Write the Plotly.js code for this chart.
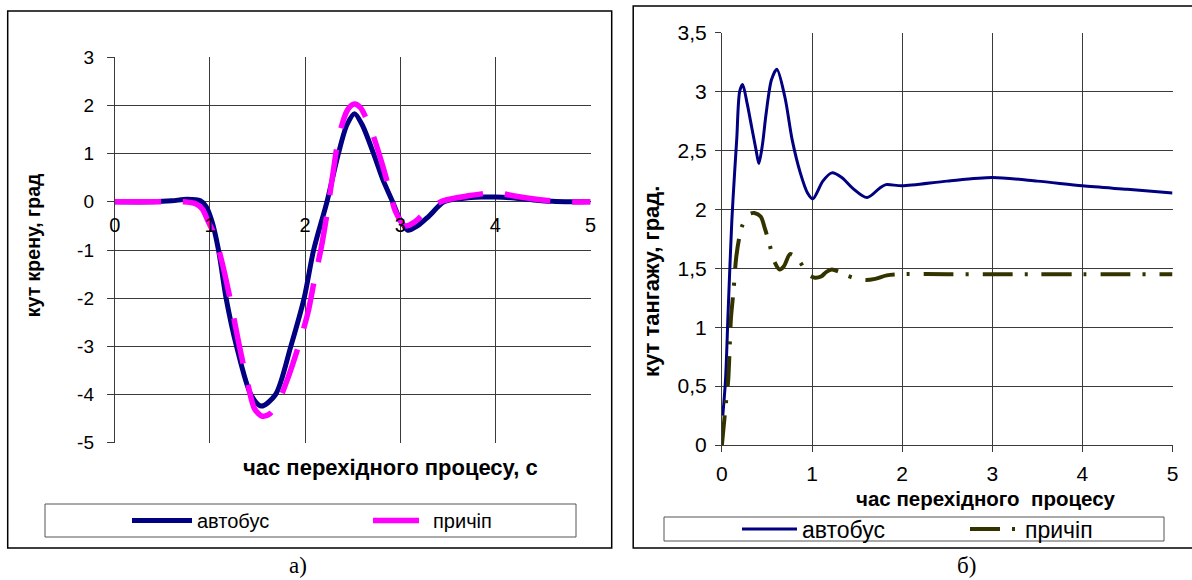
<!DOCTYPE html>
<html>
<head>
<meta charset="utf-8">
<script src="https://cdn.plot.ly/plotly-3.0.1.min.js"></script>
<style>
html,body{margin:0;padding:0;background:#fff;}
#chart{width:1192px;height:580px;}
</style>
</head>
<body>
<div id="chart"></div>
<script>
// ---------- data: panel а) roll angle ----------
const rollBusT = [0, 0.4, 0.6, 0.76, 0.9, 0.96, 1.02, 1.09, 1.17, 1.28, 1.43, 1.54, 1.69, 1.85, 1.99, 2.09, 2.23, 2.35, 2.44, 2.52, 2.6, 2.72, 2.82, 2.92, 3.0, 3.08, 3.18, 3.3, 3.46, 3.65, 3.85, 4.0, 4.2, 4.4, 4.6, 4.8, 5];
const rollBusV = [0, 0, 0.02, 0.055, 0.02, -0.1, -0.4, -1, -2, -3, -4, -4.24, -4, -3, -2, -1, 0, 1, 1.6, 1.83, 1.6, 1, 0.45, 0, -0.38, -0.59, -0.5, -0.3, 0, 0.07, 0.1, 0.1, 0.08, 0.04, 0.01, 0, 0];
const rollTrlT = [0, 0.5, 0.72, 0.85, 0.92, 0.98, 1.05, 1.12, 1.2, 1.31, 1.4, 1.47, 1.55, 1.63, 1.73, 1.83, 1.93, 2.03, 2.1, 2.17, 2.23, 2.29, 2.36, 2.45, 2.52, 2.58, 2.65, 2.72, 2.8, 2.88, 2.95, 3.05, 3.15, 3.3, 3.45, 3.7, 4.0, 4.2, 4.45, 4.7, 5];
const rollTrlV = [0, 0, 0, -0.04, -0.15, -0.4, -0.7, -1.2, -1.9, -3.0, -3.8, -4.3, -4.45, -4.4, -4.1, -3.6, -3.0, -2.3, -1.6, -0.95, -0.25, 0.55, 1.4, 1.92, 2.03, 1.96, 1.7, 1.35, 0.85, 0.3, -0.2, -0.5, -0.42, -0.15, 0.02, 0.12, 0.19, 0.12, 0.05, 0, 0];

// ---------- data: panel б) pitch angle ----------
const pitchBusT = [0.01, 0.04, 0.07, 0.11, 0.14, 0.165, 0.197, 0.23, 0.28, 0.33, 0.38, 0.41, 0.45, 0.49, 0.55, 0.61, 0.7, 0.78, 0.87, 0.95, 1.01, 1.12, 1.22, 1.33, 1.45, 1.61, 1.75, 1.82, 2.0, 2.5, 3.0, 3.5, 4.0, 4.5, 5.0];
const pitchBusV = [0.25, 0.55, 1.15, 1.9, 2.3, 2.6, 3.0, 3.06, 2.9, 2.7, 2.5, 2.39, 2.55, 2.81, 3.1, 3.19, 2.95, 2.59, 2.31, 2.14, 2.09, 2.24, 2.31, 2.27, 2.18, 2.1, 2.18, 2.21, 2.2, 2.24, 2.27, 2.24, 2.2, 2.17, 2.14];
const pitchTrlT = [0, 0.03, 0.05, 0.07, 0.085, 0.1, 0.13, 0.157, 0.19, 0.22, 0.26, 0.3, 0.36, 0.43, 0.48, 0.53, 0.58, 0.64, 0.69, 0.755, 0.81, 0.87, 0.92, 0.97, 1.03, 1.1, 1.16, 1.22, 1.3, 1.38, 1.5, 1.6, 1.7, 1.83, 2.0, 2.5, 3, 3.5, 4, 4.5, 5];
const pitchTrlV = [0, 0.24, 0.4, 0.55, 0.8, 1.07, 1.32, 1.58, 1.75, 1.85, 1.92, 1.96, 1.97, 1.94, 1.83, 1.7, 1.56, 1.49, 1.52, 1.62, 1.6, 1.55, 1.49, 1.44, 1.42, 1.43, 1.47, 1.49, 1.47, 1.44, 1.41, 1.4, 1.41, 1.44, 1.45, 1.45, 1.45, 1.45, 1.45, 1.45, 1.45];

const seriesNames = ['автобус', 'причіп'];
const yTickValsA = [-5, -4, -3, -2, -1, 0, 1, 2, 3];
const yTickTextA = ['-5', '-4', '-3', '-2', '-1', '0', '1', '2', '3'];
const xTitleA = 'час перехідного процесу, с';
const yTitleA = 'кут крену, град';
const xTitleB = 'час перехідного  процесу';
const yTitleB = 'кут тангажу, град.';
const captions = ['а)', 'б)'];

// ---------- layout helpers (pixel -> paper) ----------
const W = 1192, H = 580;
const px = x => x / W;
const py = y => 1 - y / H;

const SANS = 'Liberation Sans, Arial, sans-serif';
const SERIF = 'Liberation Serif, Times New Roman, serif';
const GRID = '#3a3a3a';

const xDomA = [px(114.8), px(590.5)], yDomA = [py(442.7), py(57.3)];
const xDomB = [px(721.9), px(1172.5)], yDomB = [py(445), py(32.7)];
const yRangeA = [-5, 3];
const zeroPosA = yDomA[0] + (0 - yRangeA[0]) / (yRangeA[1] - yRangeA[0]) * (yDomA[1] - yDomA[0]);

const traces = [
  {x: rollBusT, y: rollBusV, xaxis: 'x', yaxis: 'y', name: seriesNames[0], mode: 'lines',
   line: {color: '#000080', width: 5, shape: 'spline', smoothing: 0.8}, legend: 'legend', showlegend: true},
  {x: rollTrlT, y: rollTrlV, xaxis: 'x', yaxis: 'y', name: seriesNames[1], mode: 'lines',
   line: {color: '#FF00FF', width: 5.5, shape: 'spline', smoothing: 0.8, dash: '46px,22px'}, legend: 'legend2', showlegend: true},
  {x: pitchBusT, y: pitchBusV, xaxis: 'x2', yaxis: 'y2', name: seriesNames[0], mode: 'lines',
   line: {color: '#000080', width: 3, shape: 'spline', smoothing: 0.8}, legend: 'legend3', showlegend: true},
  {x: pitchTrlT, y: pitchTrlV, xaxis: 'x2', yaxis: 'y2', name: seriesNames[1], mode: 'lines',
   line: {color: '#333300', width: 4, shape: 'spline', smoothing: 0.8, dash: '30px,12px,3px,14px'}, legend: 'legend4', showlegend: true}
];

const legBase = {orientation: 'h', bgcolor: 'rgba(0,0,0,0)', borderwidth: 0, xanchor: 'left', yanchor: 'middle'};

const layout = {
  width: W, height: H,
  margin: {l: 0, r: 0, t: 0, b: 0},
  paper_bgcolor: '#fff', plot_bgcolor: '#fff',
  separators: ', ',
  showlegend: true,
  font: {family: SANS, color: '#000'},
  hovermode: false,
  xaxis: {domain: xDomA, range: [0, 5], dtick: 1, anchor: 'free', position: zeroPosA, layer: 'above traces',
          showgrid: true, gridcolor: GRID, gridwidth: 1, zeroline: true, zerolinecolor: GRID, zerolinewidth: 1,
          showline: false, ticks: '', tickfont: {size: 20, family: SANS}, ticklabelstandoff: 9, fixedrange: true},
  yaxis: {domain: yDomA, range: yRangeA, tickvals: yTickValsA, ticktext: yTickTextA, anchor: 'x',
          showgrid: true, gridcolor: GRID, gridwidth: 1, zeroline: true, zerolinecolor: GRID, zerolinewidth: 1,
          showline: true, linecolor: GRID, linewidth: 1, ticks: 'outside', ticklen: 7, tickcolor: GRID,
          tickfont: {size: 19, family: SANS}, ticklabelstandoff: 9, fixedrange: true},
  xaxis2: {domain: xDomB, range: [0, 5], dtick: 1, anchor: 'y2',
           showgrid: true, gridcolor: GRID, gridwidth: 1, zeroline: false,
           showline: true, linecolor: GRID, linewidth: 1, ticks: 'outside', ticklen: 6, tickcolor: GRID,
           tickfont: {size: 21, family: SANS}, ticklabelstandoff: 4, fixedrange: true},
  yaxis2: {domain: yDomB, range: [0, 3.5], dtick: 0.5, anchor: 'x2',
           showgrid: true, gridcolor: GRID, gridwidth: 1, zeroline: false,
           showline: true, linecolor: GRID, linewidth: 1, ticks: 'outside', ticklen: 6, tickcolor: GRID,
           tickfont: {size: 21, family: SANS}, ticklabelstandoff: 4, fixedrange: true},
  legend:  Object.assign({}, legBase, {x: px(127), y: py(520.5), itemwidth: 60, font: {size: 20, family: SANS}}),
  legend2: Object.assign({}, legBase, {x: px(368), y: py(520.5), itemwidth: 55, font: {size: 20, family: SANS}}),
  legend3: Object.assign({}, legBase, {x: px(737), y: py(529), itemwidth: 55, font: {size: 23, family: SANS}}),
  legend4: Object.assign({}, legBase, {x: px(965), y: py(529), itemwidth: 50, font: {size: 23, family: SANS}}),
  shapes: [
    {type: 'rect', xref: 'paper', yref: 'paper', x0: px(7.7), x1: px(611.7), y0: py(548), y1: py(11), line: {color: '#000', width: 1.5}},
    {type: 'rect', xref: 'paper', yref: 'paper', x0: px(633.2), x1: 1.01, y0: py(548), y1: py(6), line: {color: '#000', width: 1.5}},
    {type: 'rect', xref: 'paper', yref: 'paper', x0: px(45), x1: px(576), y0: py(537), y1: py(504), line: {color: '#555', width: 1}},
    {type: 'rect', xref: 'paper', yref: 'paper', x0: px(664), x1: px(1164), y0: py(541), y1: py(517), line: {color: '#555', width: 1}}
  ],
  annotations: [
    {text: '<b>' + yTitleA + '</b>', xref: 'paper', yref: 'paper', x: px(32.5), y: py(245.7), textangle: -90,
     showarrow: false, xanchor: 'center', yanchor: 'middle', font: {size: 19.5, family: SANS}},
    {text: '<b>' + xTitleA + '</b>', xref: 'paper', yref: 'paper', x: px(390), y: py(468),
     showarrow: false, xanchor: 'center', yanchor: 'middle', font: {size: 22, family: SANS}},
    {text: '<b>' + yTitleB + '</b>', xref: 'paper', yref: 'paper', x: px(651), y: py(282), textangle: -90,
     showarrow: false, xanchor: 'center', yanchor: 'middle', font: {size: 22, family: SANS}},
    {text: '<b>' + xTitleB.replace('  ', '&nbsp; ') + '</b>', xref: 'paper', yref: 'paper', x: px(986), y: py(498),
     showarrow: false, xanchor: 'center', yanchor: 'middle', font: {size: 20.5, family: SANS}},
    {text: captions[0], xref: 'paper', yref: 'paper', x: px(298), y: py(565.5),
     showarrow: false, xanchor: 'center', yanchor: 'middle', font: {size: 23, family: SERIF}},
    {text: captions[1], xref: 'paper', yref: 'paper', x: px(966), y: py(565.5),
     showarrow: false, xanchor: 'center', yanchor: 'middle', font: {size: 23, family: SERIF}}
  ]
};

Plotly.newPlot('chart', traces, layout, {staticPlot: true, displayModeBar: false});
</script>
</body>
</html>
